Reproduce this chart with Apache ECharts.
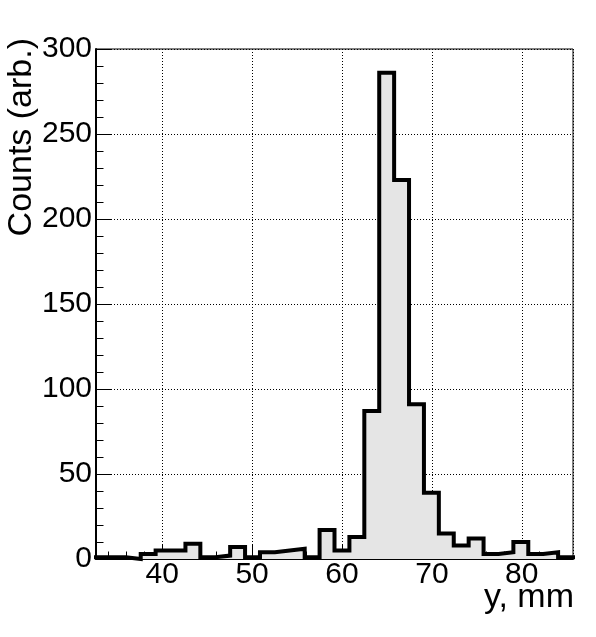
<!DOCTYPE html>
<html>
<head>
<meta charset="utf-8">
<title>y, mm</title>
<script src="https://cdn.jsdelivr.net/npm/echarts@6.0.0/dist/echarts.min.js"></script>
<style>
    html, body { margin: 0; padding: 0; background: #fff; }
    .chart-box { width: 596px; height: 637px; }
</style>
</head>
<body>
<div class="chart-box" id="chart"></div>
<script>
    // histogram range and bin contents
    const xMin = 32.63
    const xMax = 85.7
    const counts = [1, 1, 0, 3, 5, 5, 9, 1, 2, 7,
        1, 4, 5, 6, 1, 17, 5, 13, 87, 286,
        223, 91, 39, 15, 8, 12, 3, 4, 10, 3,
        4, 1]
    const xMinorTicks = [34, 36, 38, 42, 44, 46, 48, 52, 54, 56, 58, 62, 64, 66, 68,
        72, 74, 76, 78, 82, 84]
    const yTicks = [0, 50, 100, 150, 200, 250, 300]
    const xTitle = 'y, mm'
    const yTitle = 'Counts (arb.)'

    const font = 'Liberation Sans'
    const binWidth = (xMax - xMin) / counts.length

    // step outline: one point per lower bin edge, plus the upper edge of the last bin
    let steps = counts.map((c, i) => [xMin + i * binWidth, c])
    steps.push([xMax, counts[counts.length - 1]])

    let mychart = echarts.init(document.getElementById('chart'))
    let option = {
        animation: false,
        grid: {
            left: 96,
            top: 49,
            right: 23,
            bottom: 78,
            show: true,
            borderColor: '#000',
            borderWidth: 1
        },
        xAxis: [
            {
                type: 'value',
                min: xMin,
                max: xMax,
                splitNumber: 5,
                axisLine: { lineStyle: { color: '#000', width: 2 } },
                axisTick: { inside: true, length: 15, lineStyle: { color: '#000', width: 1 } },
                axisLabel: {
                    showMinLabel: false,
                    showMaxLabel: false,
                    margin: 1,
                    color: '#000',
                    fontFamily: font,
                    fontSize: 30
                },
                splitLine: { show: true, lineStyle: { color: '#000', width: 1, type: [1, 2] } }
            },
            {
                // minor ticks only
                type: 'value',
                min: xMin,
                max: xMax,
                position: 'bottom',
                axisLine: { show: false },
                axisLabel: { show: false },
                splitLine: { show: false },
                axisTick: {
                    inside: true,
                    length: 7.5,
                    customValues: xMinorTicks,
                    lineStyle: { color: '#000', width: 1 }
                }
            }
        ],
        yAxis: {
            type: 'value',
            min: yTicks[0],
            max: yTicks[yTicks.length - 1],
            interval: yTicks[1] - yTicks[0],
            axisLine: { show: true, lineStyle: { color: '#000', width: 2 } },
            axisTick: { show: true, inside: true, length: 15, lineStyle: { color: '#000', width: 1 } },
            minorTick: { show: true, splitNumber: 5, length: 7.5, lineStyle: { color: '#000', width: 1 } },
            axisLabel: {
                margin: 4,
                color: '#000',
                fontFamily: font,
                fontSize: 30
            },
            splitLine: { show: true, lineStyle: { color: '#000', width: 1, type: [1, 2] } }
        },
        graphic: [
            {
                type: 'text',
                x: 574,
                y: 597.5,
                style: {
                    text: xTitle,
                    fill: '#000',
                    font: '34px "Liberation Sans"',
                    textAlign: 'right',
                    textVerticalAlign: 'middle'
                }
            },
            {
                type: 'text',
                x: 21.5,
                y: 38,
                rotation: Math.PI / 2,
                style: {
                    text: yTitle,
                    fill: '#000',
                    font: '34px "Liberation Sans"',
                    textAlign: 'right',
                    textVerticalAlign: 'middle'
                }
            }
        ],
        series: [
            {
                type: 'line',
                step: 'end',
                data: steps,
                symbol: 'none',
                clip: false,
                lineStyle: { color: '#000', width: 4, join: 'miter', cap: 'square' },
                areaStyle: { color: '#e5e5e5', opacity: 1 }
            }
        ]
    }
    mychart.setOption(option)
</script>
</body>
</html>
